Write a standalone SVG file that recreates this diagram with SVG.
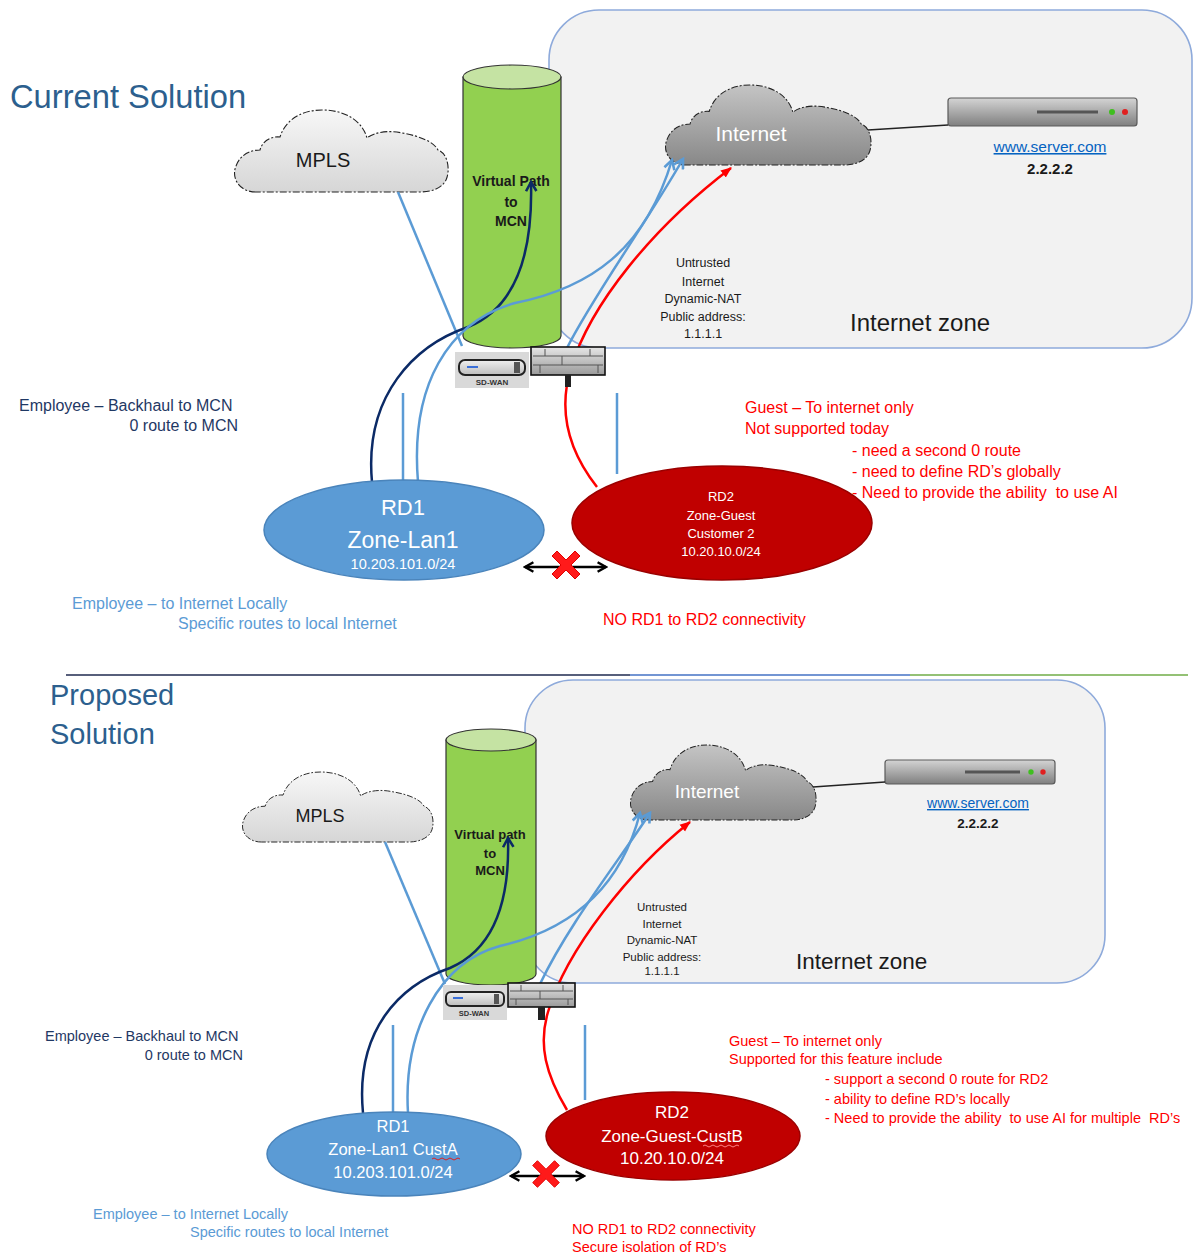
<svg xmlns="http://www.w3.org/2000/svg" width="1199" height="1256" viewBox="0 0 1199 1256">
  <style>
    text { font-family: "Liberation Sans", Arial, sans-serif; white-space: pre; }
    .zone { fill: #f2f2f2; stroke: #8eaadb; stroke-width: 1.6; }
    .cloud { stroke: #222; stroke-width: 1.1; stroke-dasharray: 7 2 2 2; vector-effect: non-scaling-stroke; }
    .cyl { fill: #92d050; stroke: #333; stroke-width: 1.2; }
    .cyltop { fill: #c5e3a3; stroke: #333; stroke-width: 1.2; }
    .title { fill: #2c5f8e; }
    .navyTxt { fill: #1f3864; }
    .lblue { fill: #5b9bd5; }
    .red { fill: #ff0000; }
    .dark { fill: #1a1a1a; }
    .white { fill: #ffffff; }
    .link { fill: #0563c1; text-decoration: underline; }
    .cNavy { fill: none; stroke: #0b2a66; stroke-width: 2.5; }
    .cBlue { fill: none; stroke: #5b9bd5; stroke-width: 2.5; }
    .cRed { fill: none; stroke: #ff0000; stroke-width: 2.5; }
    .cBlack { fill: none; stroke: #000; stroke-width: 2.5; }
    .wire { fill: none; stroke: #222; stroke-width: 1.3; }
    .rd1 { fill: #5b9bd5; stroke: #4a84bb; stroke-width: 1.5; }
    .rd2 { fill: #c00000; stroke: #9a0000; stroke-width: 1.5; }
  </style>
  <defs>
    <linearGradient id="gMpls" x1="0" y1="0" x2="0" y2="1">
      <stop offset="0" stop-color="#f7f7f7"/>
      <stop offset="1" stop-color="#d6d6d6"/>
    </linearGradient>
    <linearGradient id="gNet" x1="0" y1="0" x2="0" y2="1">
      <stop offset="0" stop-color="#c4c4c4"/>
      <stop offset="1" stop-color="#888888"/>
    </linearGradient>
    <linearGradient id="gServer" x1="0" y1="0" x2="0" y2="1">
      <stop offset="0" stop-color="#d4d4d4"/>
      <stop offset="1" stop-color="#7f7f7f"/>
    </linearGradient>
    <linearGradient id="gFw" x1="0" y1="0" x2="0" y2="1">
      <stop offset="0" stop-color="#e6e6e6"/>
      <stop offset="1" stop-color="#9a9a9a"/>
    </linearGradient>
    <linearGradient id="gBox" x1="0" y1="0" x2="0" y2="1">
      <stop offset="0" stop-color="#f0f0f0"/>
      <stop offset="1" stop-color="#bdbdbd"/>
    </linearGradient>
    <!-- cloud outline in a 213 x 82 box -->
    <path id="cloudShape" d="M22,82 C5,82 -3,68 2,56 C6,45 16,40 26,40 C28,32 36,26 46,27 C52,8 70,0 88,0 C110,0 128,10 133,28 C140,22 155,20 168,23 C186,26 200,32 204,40 C215,44 216,62 212,70 C208,78 198,82 186,82 Z"/>
    <!-- red "blocked" cross -->
    <path id="blockX" d="M-14,-9 L-9,-14 L0,-5 L9,-14 L14,-9 L5,0 L14,9 L9,14 L0,5 L-9,14 L-14,9 L-5,0 Z" fill="#ff1a1a" stroke="#e00000" stroke-width="1"/>
    <marker id="aNavy" viewBox="0 0 10 10" refX="8" refY="5" markerWidth="13" markerHeight="13" markerUnits="userSpaceOnUse" orient="auto">
      <path d="M1,1 L8,5 L1,9" fill="none" stroke="#0b2a66" stroke-width="2"/>
    </marker>
    <marker id="aBlue" viewBox="0 0 10 10" refX="8" refY="5" markerWidth="13" markerHeight="13" markerUnits="userSpaceOnUse" orient="auto">
      <path d="M1,1 L8,5 L1,9" fill="none" stroke="#5b9bd5" stroke-width="2"/>
    </marker>
    <marker id="aRed" viewBox="0 0 10 10" refX="9" refY="5" markerWidth="11" markerHeight="11" markerUnits="userSpaceOnUse" orient="auto">
      <path d="M0,1 L10,5 L0,9 Z" fill="#ff0000"/>
    </marker>
    <marker id="aBlack" viewBox="0 0 10 10" refX="8" refY="5" markerWidth="12" markerHeight="12" markerUnits="userSpaceOnUse" orient="auto-start-reverse">
      <path d="M1,1 L8,5 L1,9" fill="none" stroke="#000" stroke-width="2"/>
    </marker>
  </defs>

  <rect width="1199" height="1256" fill="#ffffff"/>

  <!-- ===================== CURRENT SOLUTION ===================== -->
  <g id="zone-top">
    <rect class="zone" x="549" y="10" width="643" height="338" rx="50"/>
    <text x="850" y="331" font-size="24" class="dark">Internet zone</text>
  </g>
  <text id="title-current" x="10" y="108" font-size="32.7" class="title">Current Solution</text>

  <g id="mpls-top">
    <use href="#cloudShape" class="cloud" fill="url(#gMpls)" transform="translate(234,110)"/>
    <text x="323" y="167" font-size="20" text-anchor="middle" class="dark">MPLS</text>
  </g>

  <g id="internet-top">
    <use href="#cloudShape" class="cloud" fill="url(#gNet)" transform="translate(665,85) scale(0.962,0.976)"/>
    <text x="751" y="141" font-size="21" text-anchor="middle" class="white">Internet</text>
  </g>

  <g id="server-top">
    <rect x="948" y="98" width="189" height="28" rx="3" fill="url(#gServer)" stroke="#5a5a5a" stroke-width="1.2"/>
    <line x1="1037" y1="112" x2="1098" y2="112" stroke="#555" stroke-width="3"/>
    <circle cx="1112" cy="112" r="3" fill="#3fbf1f"/>
    <circle cx="1125" cy="112" r="3" fill="#e02020"/>
    <text x="1050" y="152" font-size="15.5" text-anchor="middle" class="link">www.server.com</text>
    <text x="1050" y="174" font-size="15" text-anchor="middle" font-weight="bold" class="dark">2.2.2.2</text>
  </g>

  <g id="vpath-top">
    <path class="cyl" d="M463,77 L463,336 A49,12 0 0 0 561,336 L561,77 Z"/>
    <ellipse class="cyltop" cx="512" cy="77" rx="49" ry="12"/>
    <text x="511" y="186" font-size="14" font-weight="bold" text-anchor="middle" class="dark">Virtual Path</text>
    <text x="511" y="207" font-size="14" font-weight="bold" text-anchor="middle" class="dark">to</text>
    <text x="511" y="226" font-size="14" font-weight="bold" text-anchor="middle" class="dark">MCN</text>
  </g>

  <g id="nat-label-top" font-size="12.5" text-anchor="middle" class="dark">
    <text x="703" y="267">Untrusted</text>
    <text x="703" y="286">Internet</text>
    <text x="703" y="303">Dynamic-NAT</text>
    <text x="703" y="321">Public address:</text>
    <text x="703" y="338">1.1.1.1</text>
  </g>

  <g id="connectors-top">
    <line class="wire" x1="868" y1="130" x2="948" y2="125"/>
    <line class="cBlue" x1="398" y1="192" x2="462" y2="346"/>
    <line class="cBlue" x1="403" y1="393" x2="403" y2="481" stroke-width="2"/>
    <line class="cBlue" x1="617" y1="393" x2="617" y2="474" stroke-width="2"/>
    <path class="cNavy" d="M372,482 C364,395 415,345 468,327 C515,308 533,255 531,182" marker-end="url(#aNavy)"/>
    <path class="cBlue" d="M418,482 C410,385 448,322 515,303 C590,288 645,250 672,160" marker-end="url(#aBlue)"/>
    <path class="cBlue" d="M567,348 C592,298 645,225 683,159" marker-end="url(#aBlue)"/>
    <path class="cRed" d="M597,487 C568,450 558,410 571,368 C590,305 652,228 731,168" marker-end="url(#aRed)"/>
    <line class="cBlack" x1="525" y1="567" x2="606" y2="567" marker-start="url(#aBlack)" marker-end="url(#aBlack)"/>
  </g>

  <g id="sdwan-top">
    <rect x="455" y="352" width="74" height="36" fill="#d9d9d9"/>
    <rect x="459" y="360" width="66" height="15" rx="6" fill="url(#gBox)" stroke="#222" stroke-width="2"/>
    <line x1="467" y1="367" x2="478" y2="367" stroke="#3a6fd8" stroke-width="2"/>
    <rect x="514" y="362" width="6" height="11" fill="#555"/>
    <text x="492" y="385" font-size="8" font-weight="bold" text-anchor="middle" fill="#333">SD-WAN</text>
  </g>

  <g id="firewall-top">
    <rect x="531" y="347" width="74" height="28" fill="url(#gFw)" stroke="#111" stroke-width="1.6"/>
    <line x1="533" y1="356" x2="603" y2="356" stroke="#555" stroke-width="1"/>
    <line x1="533" y1="365" x2="603" y2="365" stroke="#555" stroke-width="1"/>
    <line x1="545" y1="349" x2="545" y2="356" stroke="#555"/>
    <line x1="590" y1="349" x2="590" y2="356" stroke="#555"/>
    <line x1="562" y1="356" x2="562" y2="365" stroke="#555"/>
    <line x1="598" y1="365" x2="598" y2="373" stroke="#555"/>
    <line x1="540" y1="365" x2="540" y2="373" stroke="#555"/>
    <rect x="565" y="375" width="6" height="12" fill="#222"/>
  </g>

  <g id="rd1-top">
    <ellipse class="rd1" cx="404" cy="530" rx="140" ry="50"/>
    <text x="403" y="515" font-size="22" text-anchor="middle" class="white">RD1</text>
    <text x="403" y="548" font-size="23" text-anchor="middle" class="white">Zone-Lan1</text>
    <text x="403" y="569" font-size="14.5" text-anchor="middle" class="white">10.203.101.0/24</text>
  </g>

  <g id="rd2-top" font-size="13" text-anchor="middle" class="white">
    <ellipse class="rd2" cx="722" cy="523" rx="150" ry="57"/>
    <text x="721" y="501">RD2</text>
    <text x="721" y="520">Zone-Guest</text>
    <text x="721" y="538">Customer 2</text>
    <text x="721" y="556">10.20.10.0/24</text>
  </g>

  <use id="block-top" href="#blockX" transform="translate(566,565)"/>

  <g id="notes-top" font-size="16">
    <text x="19" y="411" class="navyTxt">Employee – Backhaul to MCN</text>
    <text x="238" y="431" text-anchor="end" class="navyTxt">0 route to MCN</text>
    <text x="745" y="413" class="red">Guest – To internet only</text>
    <text x="745" y="434" class="red">Not supported today</text>
    <text x="852" y="456" class="red">- need a second 0 route</text>
    <text x="852" y="477" class="red">- need to define RD’s globally</text>
    <text x="852" y="498" class="red">- Need to provide the ability  to use AI</text>
    <text x="72" y="609" class="lblue">Employee – to Internet Locally</text>
    <text x="178" y="629" class="lblue">Specific routes to local Internet</text>
    <text x="603" y="625" class="red">NO RD1 to RD2 connectivity</text>
  </g>

  <!-- section divider -->
  <g id="divider">
    <line x1="66" y1="675" x2="630" y2="675" stroke="#1f2a4f" stroke-width="1.6"/>
    <line x1="630" y1="675" x2="910" y2="675" stroke="#4472c4" stroke-width="1.6"/>
    <line x1="910" y1="675" x2="1188" y2="675" stroke="#70ad47" stroke-width="1.6"/>
  </g>

  <!-- ===================== PROPOSED SOLUTION ===================== -->
  <g id="zone-bottom">
    <rect class="zone" x="525" y="680" width="580" height="303" rx="48"/>
    <text x="796" y="969" font-size="22.5" class="dark">Internet zone</text>
  </g>
  <g id="title-proposed" font-size="29" class="title">
    <text x="50" y="705">Proposed</text>
    <text x="50" y="744">Solution</text>
  </g>

  <g id="mpls-bottom">
    <use href="#cloudShape" class="cloud" fill="url(#gMpls)" transform="translate(242,772) scale(0.892,0.854)"/>
    <text x="320" y="822" font-size="18" text-anchor="middle" class="dark">MPLS</text>
  </g>

  <g id="internet-bottom">
    <use href="#cloudShape" class="cloud" fill="url(#gNet)" transform="translate(630,745) scale(0.869,0.915)"/>
    <text x="707" y="798" font-size="19" text-anchor="middle" class="white">Internet</text>
  </g>

  <g id="server-bottom">
    <rect x="885" y="760" width="170" height="24" rx="3" fill="url(#gServer)" stroke="#5a5a5a" stroke-width="1.2"/>
    <line x1="965" y1="772" x2="1020" y2="772" stroke="#555" stroke-width="3"/>
    <circle cx="1031" cy="772" r="2.7" fill="#3fbf1f"/>
    <circle cx="1043" cy="772" r="2.7" fill="#e02020"/>
    <text x="978" y="808" font-size="14" text-anchor="middle" class="link">www.server.com</text>
    <text x="978" y="828" font-size="13.5" text-anchor="middle" font-weight="bold" class="dark">2.2.2.2</text>
  </g>

  <g id="vpath-bottom">
    <path class="cyl" d="M446,740 L446,974 A45,11 0 0 0 536,974 L536,740 Z"/>
    <ellipse class="cyltop" cx="491" cy="740" rx="45" ry="11"/>
    <text x="490" y="839" font-size="13" font-weight="bold" text-anchor="middle" class="dark">Virtual path</text>
    <text x="490" y="858" font-size="13" font-weight="bold" text-anchor="middle" class="dark">to</text>
    <text x="490" y="875" font-size="13" font-weight="bold" text-anchor="middle" class="dark">MCN</text>
  </g>

  <g id="nat-label-bottom" font-size="11.5" text-anchor="middle" class="dark">
    <text x="662" y="911">Untrusted</text>
    <text x="662" y="928">Internet</text>
    <text x="662" y="944">Dynamic-NAT</text>
    <text x="662" y="961">Public address:</text>
    <text x="662" y="975">1.1.1.1</text>
  </g>

  <g id="connectors-bottom">
    <line class="wire" x1="813" y1="787" x2="885" y2="782"/>
    <line class="cBlue" x1="385" y1="842" x2="445" y2="984"/>
    <line class="cBlue" x1="393" y1="1025" x2="393" y2="1112" stroke-width="2"/>
    <line class="cBlue" x1="585" y1="1025" x2="585" y2="1100" stroke-width="2"/>
    <path class="cNavy" d="M363,1113 C355,1030 400,985 450,968 C492,950 510,905 508,838" marker-end="url(#aNavy)"/>
    <path class="cBlue" d="M408,1113 C403,1030 440,962 500,946 C570,930 620,890 640,813" marker-end="url(#aBlue)"/>
    <path class="cBlue" d="M540,984 C568,925 618,862 650,813" marker-end="url(#aBlue)"/>
    <path class="cRed" d="M567,1110 C546,1075 538,1045 548,1012 C566,950 630,870 690,822" marker-end="url(#aRed)"/>
    <line class="cBlack" x1="511" y1="1176" x2="584" y2="1176" marker-start="url(#aBlack)" marker-end="url(#aBlack)"/>
  </g>

  <g id="sdwan-bottom">
    <rect x="443" y="985" width="64" height="35" fill="#d9d9d9"/>
    <rect x="446" y="992" width="58" height="14" rx="5" fill="url(#gBox)" stroke="#222" stroke-width="2"/>
    <line x1="453" y1="998" x2="463" y2="998" stroke="#3a6fd8" stroke-width="2"/>
    <rect x="494" y="994" width="5" height="10" fill="#555"/>
    <text x="474" y="1016" font-size="7.5" font-weight="bold" text-anchor="middle" fill="#333">SD-WAN</text>
  </g>

  <g id="firewall-bottom">
    <rect x="508" y="983" width="67" height="24" fill="url(#gFw)" stroke="#111" stroke-width="1.6"/>
    <line x1="510" y1="991" x2="573" y2="991" stroke="#555" stroke-width="1"/>
    <line x1="510" y1="999" x2="573" y2="999" stroke="#555" stroke-width="1"/>
    <line x1="521" y1="985" x2="521" y2="991" stroke="#555"/>
    <line x1="563" y1="985" x2="563" y2="991" stroke="#555"/>
    <line x1="540" y1="991" x2="540" y2="999" stroke="#555"/>
    <line x1="568" y1="999" x2="568" y2="1005" stroke="#555"/>
    <line x1="516" y1="999" x2="516" y2="1005" stroke="#555"/>
    <rect x="538" y="1007" width="7" height="13" fill="#222"/>
  </g>

  <g id="rd1-bottom" font-size="16.5" text-anchor="middle" class="white">
    <ellipse class="rd1" cx="394" cy="1154" rx="127" ry="42"/>
    <text x="393" y="1132">RD1</text>
    <text x="393" y="1155">Zone-Lan1 CustA</text>
    <text x="393" y="1178">10.203.101.0/24</text>
    <path d="M432,1159 q2,-2 4,0 t4,0 t4,0 t4,0 t4,0 t4,0 t4,0" fill="none" stroke="#e02020" stroke-width="1"/>
  </g>

  <g id="rd2-bottom" font-size="17" text-anchor="middle" class="white">
    <ellipse class="rd2" cx="673" cy="1136" rx="127" ry="44"/>
    <text x="672" y="1118">RD2</text>
    <text x="672" y="1142">Zone-Guest-CustB</text>
    <text x="672" y="1164">10.20.10.0/24</text>
    <path d="M703,1146 q2,-2 4,0 t4,0 t4,0 t4,0 t4,0 t4,0 t4,0 t4,0 t4,0" fill="none" stroke="#ff8080" stroke-width="1"/>
  </g>

  <use id="block-bottom" href="#blockX" transform="translate(546,1174) scale(0.95)"/>

  <g id="notes-bottom" font-size="14.5">
    <text x="45" y="1041" class="navyTxt">Employee – Backhaul to MCN</text>
    <text x="243" y="1060" text-anchor="end" class="navyTxt">0 route to MCN</text>
    <text x="729" y="1046" class="red">Guest – To internet only</text>
    <text x="729" y="1064" class="red">Supported for this feature include</text>
    <text x="825" y="1084" class="red">- support a second 0 route for RD2</text>
    <text x="825" y="1104" class="red">- ability to define RD’s locally</text>
    <text x="825" y="1123" class="red">- Need to provide the ability  to use AI for multiple  RD’s</text>
    <text x="93" y="1219" class="lblue">Employee – to Internet Locally</text>
    <text x="190" y="1237" class="lblue">Specific routes to local Internet</text>
    <text x="572" y="1234" class="red">NO RD1 to RD2 connectivity</text>
    <text x="572" y="1252" class="red">Secure isolation of RD’s</text>
  </g>
</svg>
